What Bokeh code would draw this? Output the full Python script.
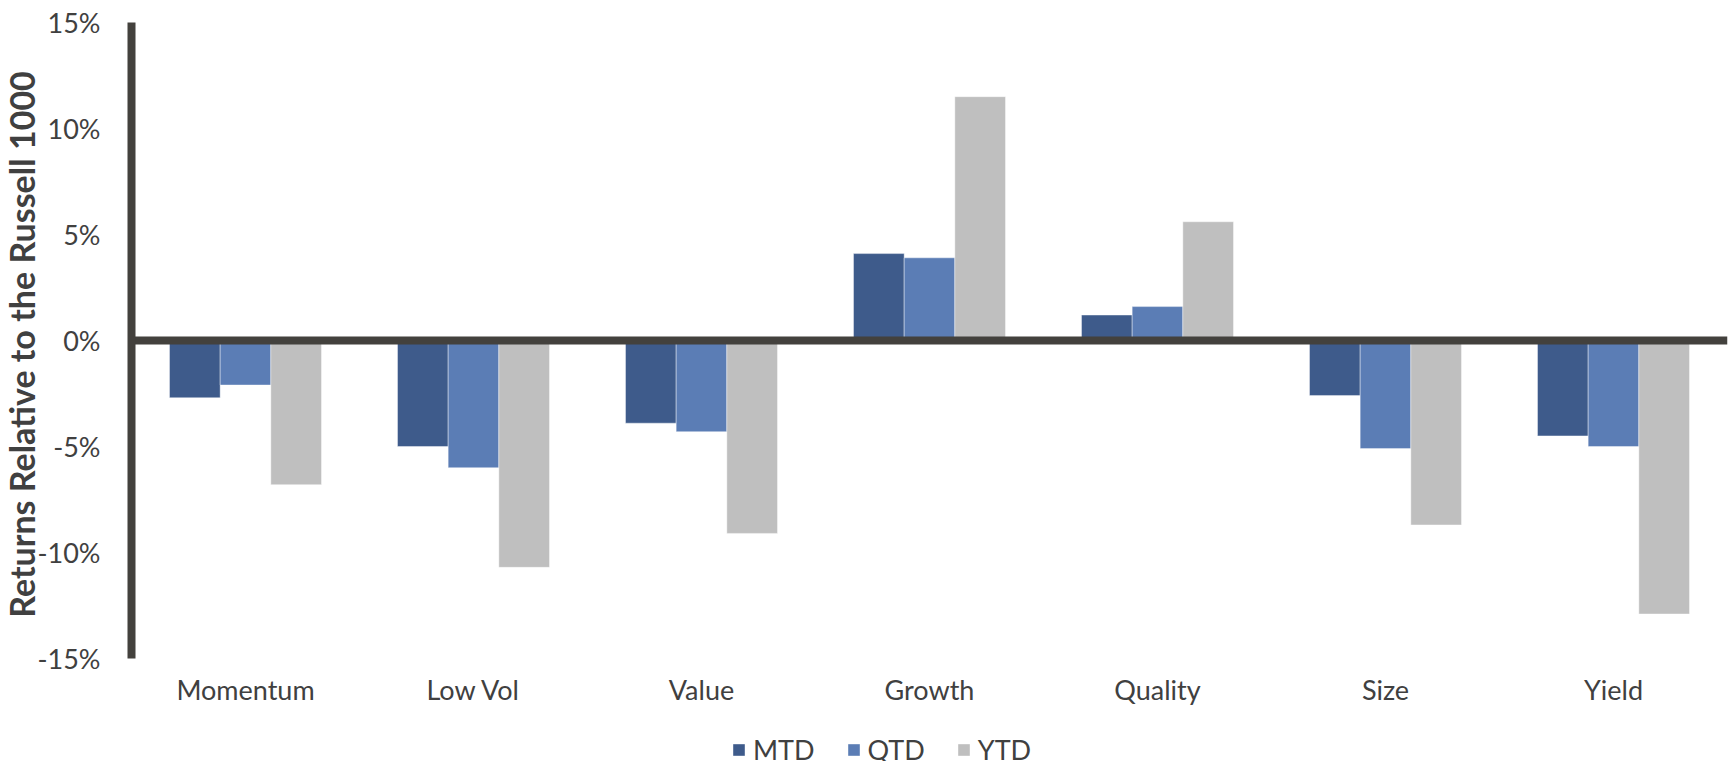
from bokeh.plotting import figure
from bokeh.models import (ColumnDataSource, Range1d, FixedTicker, Legend, LegendItem, Label,
                          LinearAxis)
from bokeh.transform import dodge
from bokeh.embed import file_html
from bokeh.resources import INLINE

categories = ["Momentum", "Low Vol", "Value", "Growth", "Quality", "Size", "Yield"]
series = ["MTD", "QTD", "YTD"]
mtd = [-2.7, -5.0, -3.9, 4.1, 1.2, -2.6, -4.5]
qtd = [-2.1, -6.0, -4.3, 3.9, 1.6, -5.1, -5.0]
ytd = [-6.8, -10.7, -9.1, 11.5, 5.6, -8.7, -12.9]
y_ticks = [-15, -10, -5, 0, 5, 10, 15]
y_tick_labels = ["-15%", "-10%", "-5%", "0%", "5%", "10%", "15%"]
y_title = "Returns Relative to the Russell 1000"
colors = ["#3E5B8B", "#5B7DB5", "#BFBFBF"]

FONT = "Lato"
TEXT = "#404040"
AXIS = "#43413D"

# ---- layout (pixels) ----
W, H = 1733, 761
TOP, RIGHT = 22, 6              # TOP: pixel row of the top of the value axis
AXIS_X = 131                    # where the value axis sits
AXIS_PX = 636                   # pixel height of the value axis
n = len(categories)
px_per_cat = (W - RIGHT - AXIS_X) / n
y_lo, y_hi = y_ticks[0], y_ticks[-1]
units_per_px = (y_hi - y_lo) / AXIS_PX
BELOW_PX = H - TOP - AXIS_PX

cat_pos = [i + 0.5 for i in range(n)]   # centre of each category slot
src = ColumnDataSource(dict(x=cat_pos, MTD=mtd, QTD=qtd, YTD=ytd))

p = figure(x_range=Range1d(-AXIS_X / px_per_cat, n),
           y_range=Range1d(y_lo - BELOW_PX * units_per_px, y_hi + TOP * units_per_px),
           width=W, height=H, output_backend="svg", toolbar_location=None,
           min_border_left=0, min_border_right=RIGHT, min_border_top=0, min_border_bottom=0)
p.outline_line_color = None
p.xgrid.visible = False
p.ygrid.visible = False
p.background_fill_color = "white"
p.border_fill_color = "white"

bw = 1 / 4.5
renderers = []
for i, (s, c) in enumerate(zip(series, colors)):
    r = p.vbar(x=dodge("x", (i - 1) * bw), top=s, bottom=0, width=bw,
               source=src, fill_color=c, line_color="white", line_width=0.8, line_alpha=0.5)
    renderers.append(r)

# value axis
ya = p.yaxis[0]
ya.fixed_location = 0
ya.bounds = (y_lo, y_hi)
ya.ticker = FixedTicker(ticks=y_ticks)
ya.major_label_overrides = {t: l for t, l in zip(y_ticks, y_tick_labels)}
ya.axis_line_color = AXIS
ya.axis_line_width = 8
ya.major_tick_line_color = None
ya.minor_tick_line_color = None
ya.major_label_text_font = FONT
ya.major_label_text_font_size = "27px"
ya.major_label_text_color = TEXT
ya.major_label_standoff = 25

# category axis, pinned at the bottom of the value axis
xa = p.xaxis[0]
xa.fixed_location = y_lo
xa.ticker = FixedTicker(ticks=cat_pos)
xa.major_label_overrides = {x: c for x, c in zip(cat_pos, categories)}
xa.axis_line_color = None
xa.major_tick_line_color = None
xa.minor_tick_line_color = None
xa.major_label_text_font = FONT
xa.major_label_text_font_size = "27px"
xa.major_label_text_color = TEXT
xa.major_label_standoff = 8

# zero line as an axis bounded to the category area
zero_axis = LinearAxis(fixed_location=0, bounds=(0, n), ticker=FixedTicker(ticks=[]),
                       axis_line_color=AXIS, axis_line_width=8,
                       major_tick_line_color=None, minor_tick_line_color=None,
                       major_label_text_font_size="0px")
p.add_layout(zero_axis, "below")

# y title
p.add_layout(Label(x=21, x_units="screen", y=(y_lo + y_hi) / 2 - 4 * units_per_px, y_units="data",
                   text=y_title, angle=90, angle_units="deg",
                   text_align="center", text_baseline="alphabetic",
                   text_font=FONT, text_font_style="bold", text_font_size="34px",
                   text_color=TEXT))

legend = Legend(items=[LegendItem(label=s, renderers=[r]) for s, r in zip(series, renderers)],
                orientation="horizontal", location=(731, -5), padding=0, margin=0,
                spacing=31, label_standoff=7, glyph_width=15, glyph_height=15,
                label_text_font=FONT, label_text_font_size="27px", label_text_color=TEXT,
                border_line_color=None, background_fill_alpha=0)
p.add_layout(legend, "center")

html = file_html(p, INLINE)
html = html.replace("<head>", "<head><style>html,body{overflow:hidden;}</style>", 1)
open("out.html", "w").write(html)
